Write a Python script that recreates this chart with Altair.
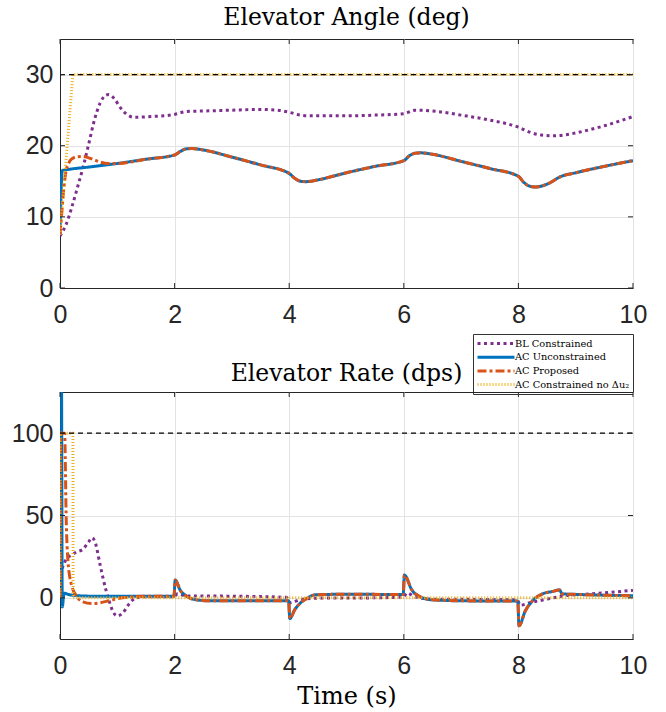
import altair as alt
import pandas as pd

# ---- series styling -------------------------------------------------------
SERIES = ["BL Constrained", "AC Unconstrained", "AC Proposed", "AC Constrained no Δu₂"]
COLORS = ["#7E2F8E", "#0072BD", "#D95319", "#EDB120"]
DASHES = [[3, 3.5], [1, 0], [9, 3, 3, 3], [1, 2]]
WIDTHS = [3, 3, 3, 1]

# ---- elevator angle (deg) -------------------------------------------------
bl_angle_t = [0, 0.1, 0.2, 0.3, 0.4, 0.5, 0.6, 0.7, 0.8, 0.85, 0.95, 1.05, 1.15, 1.3,
              1.6, 2.0, 2.2, 2.6, 3.0, 3.5, 3.8, 4.0, 4.2, 4.4, 5.0, 5.5, 6.0, 6.2,
              6.6, 7.0, 7.5, 8.0, 8.2, 8.4, 8.6, 8.8, 9.0, 9.5, 10.0]
bl_angle = [7.3, 8.8, 11.2, 14.0, 16.9, 20.2, 23.6, 26.0, 27.1, 27.2, 26.6, 25.4, 24.5, 24.0,
            24.1, 24.4, 24.8, 24.9, 25.0, 25.1, 25.0, 24.7, 24.3, 24.2, 24.2, 24.3, 24.5, 25.0,
            24.8, 24.3, 23.6, 22.6, 21.9, 21.5, 21.4, 21.5, 21.8, 22.8, 24.1]

acu_angle_t = [0, 0.04, 0.1, 0.5, 1.0, 1.5, 2.0, 2.1, 2.2, 2.3, 2.5, 3.0, 3.5, 4.0, 4.1,
               4.2, 4.3, 4.5, 5.0, 5.5, 6.0, 6.1, 6.2, 6.3, 6.5, 7.0, 7.5, 8.0, 8.1, 8.2,
               8.3, 8.5, 8.75, 9.0, 9.5, 10.0]
acu_angle = [7.5, 16.5, 16.6, 17.0, 17.5, 18.1, 18.7, 19.2, 19.55, 19.6, 19.4, 18.4, 17.3, 16.1, 15.4,
             15.0, 14.95, 15.2, 16.2, 17.1, 17.9, 18.6, 18.95, 19.0, 18.8, 17.8, 16.8, 15.7, 14.8, 14.3,
             14.2, 14.6, 15.7, 16.2, 17.1, 17.9]

acp_angle_t = [0, 0.03, 0.06, 0.1, 0.15, 0.2, 0.3, 0.4, 0.5, 0.6, 0.7, 0.85, 1.0, 1.5, 2.0,
               2.1, 2.2, 2.3, 2.5, 3.0, 3.5, 4.0, 4.1, 4.2, 4.3, 4.5, 5.0, 5.5, 6.0, 6.1,
               6.2, 6.3, 6.5, 7.0, 7.5, 8.0, 8.1, 8.2, 8.3, 8.5, 8.75, 9.0, 9.5, 10.0]
acp_angle = [7.5, 10.5, 13.5, 16.2, 17.5, 18.1, 18.45, 18.5, 18.3, 18.0, 17.7, 17.5, 17.5, 18.1, 18.7,
             19.2, 19.55, 19.6, 19.4, 18.4, 17.3, 16.1, 15.4, 15.0, 14.95, 15.2, 16.2, 17.1, 17.9, 18.6,
             18.95, 19.0, 18.8, 17.8, 16.8, 15.7, 14.8, 14.3, 14.2, 14.6, 15.7, 16.2, 17.1, 17.9]

acc_angle_t = [0, 0.225, 10.0]
acc_angle = [7.5, 30.0, 30.0]

angle_limit = [30]

# ---- elevator rate (dps) --------------------------------------------------
bl_rate_t = [0, 0.05, 0.1, 0.2, 0.3, 0.4, 0.5, 0.56, 0.62, 0.7, 0.8, 0.85, 0.92, 1.0, 1.1,
             1.2, 1.3, 1.45, 1.7, 2.0, 2.05, 2.2, 3.0, 3.95, 4.02, 4.2, 4.5, 5.5, 6.0, 6.05,
             6.2, 6.5, 7.5, 7.98, 8.03, 8.2, 8.5, 8.8, 9.0, 9.5, 10.0]
bl_rate = [14, 19, 23, 26, 28, 29.5, 34, 36.5, 33, 20, 5, -1, -8, -11, -9,
           -4, -0.5, 0.6, 0.6, 0.7, 2.5, 1.2, 1.0, 0.3, -3, -1, -0.2, 0, 0.5, 3,
           0.5, -0.8, -1, -1.2, -4.5, -3, -0.8, 1.2, 1.8, 3.0, 4.6]

acu_rate_t = [0, 0.02, 0.04, 0.07, 0.15, 0.3, 0.6, 1.0, 1.99, 2.01, 2.1, 2.2, 2.38, 2.6, 3.5,
              3.99, 4.01, 4.1, 4.2, 4.3, 4.45, 5.0, 5.99, 6.01, 6.14, 6.33, 6.5, 7.0, 7.99, 8.01,
              8.12, 8.24, 8.42, 8.6, 8.72, 8.76, 9.0, 10.0]
acu_rate = [200, 200, -5.5, 2.8, 2.0, 1.3, 1.0, 1.0, 1.0, 10.8, 4.5, 1.2, -1.2, -1.8, -1.8,
            -1.8, -12.6, -7, -3, -0.5, 1.8, 2.2, 2.0, 13.8, 4.8, 0, -1.2, -1.8, -2.0, -17,
            -8, -2, 2.4, 3.9, 4.8, 2.4, 2.1, 1.2]

acp_rate_t = [0, 0.005, 0.08, 0.11, 0.14, 0.2, 0.3, 0.4, 0.55, 0.7, 0.85, 1.0, 1.2, 1.5, 1.99,
              2.01, 2.1, 2.2, 2.38, 2.6, 3.5, 3.99, 4.01, 4.1, 4.2, 4.3, 4.45, 5.0, 5.99, 6.01,
              6.14, 6.33, 6.5, 7.0, 7.99, 8.01, 8.12, 8.24, 8.42, 8.6, 8.72, 8.76, 9.0, 10.0]
acp_rate = [0, 100, 100, 45, 22, 8, 0.5, -2.5, -3.5, -3, -1.8, -0.5, 0.5, 0.9, 1.0,
            10.8, 4.5, 1.2, -1.2, -1.8, -1.8, -1.8, -12.6, -7, -3, -0.5, 1.8, 2.2, 2.0, 13.8,
            4.8, 0, -1.2, -1.8, -2.0, -17, -8, -2, 2.4, 3.9, 4.8, 2.4, 2.1, 1.2]

acc_rate_t = [0, 0.005, 0.225, 0.23, 10.0]
acc_rate = [0, 100, 100, 0, 0]

rate_limit = [100]

X_TICKS = [0, 2, 4, 6, 8, 10]
ANGLE_TICKS = [0, 10, 20, 30]
RATE_TICKS = [0, 50, 100]

W, H1, H2 = 573, 249, 247
INK = "#262626"


def frame(ts, vs, name):
    return pd.DataFrame({"t": ts, "v": vs, "series": name})


angle_sets = [(bl_angle_t, bl_angle), (acu_angle_t, acu_angle),
              (acp_angle_t, acp_angle), (acc_angle_t, acc_angle)]
rate_sets = [(bl_rate_t, bl_rate), (acu_rate_t, acu_rate),
             (acp_rate_t, acp_rate), (acc_rate_t, acc_rate)]


def panel(sets, limit, ydomain, yticks, h, title, xtitle, legend):
    xs = alt.Scale(domain=[0, 10], nice=False, zero=False)
    ys = alt.Scale(domain=ydomain, nice=False, zero=False)
    x_axis = alt.Axis(values=X_TICKS, format="d", title=xtitle, labelPadding=14,
                      labelFlush=False,
                      titleFont="DejaVu Serif", titleFontSize=24,
                      titleFontWeight="normal", titleColor="black", titlePadding=6)
    y_axis = alt.Axis(values=yticks, format="d", title=None, labelPadding=7)

    layers = []
    for name, (ts, vs), w in zip(SERIES, sets, WIDTHS):
        interp = "linear" if w == 1 else "monotone"
        layers.append(
            alt.Chart(frame(ts, vs, name))
            .mark_line(clip=True, interpolate=interp)
            .encode(
                x=alt.X("t:Q", scale=xs, axis=x_axis),
                y=alt.Y("v:Q", scale=ys, axis=y_axis),
                color=alt.Color("series:N", scale=alt.Scale(domain=SERIES, range=COLORS),
                                legend=legend),
                strokeDash=alt.StrokeDash("series:N", scale=alt.Scale(domain=SERIES, range=DASHES),
                                          legend=legend),
                strokeWidth=alt.StrokeWidth("series:N", scale=alt.Scale(domain=SERIES, range=WIDTHS),
                                            legend=legend),
            )
        )

    lim = (
        alt.Chart(pd.DataFrame({"v": limit}))
        .mark_rule(color="black", strokeWidth=1.2, strokeDash=[5, 4])
        .encode(y="v:Q", x=alt.datum(0), x2=alt.datum(10))
    )
    tick_x = pd.DataFrame({"t": X_TICKS})
    tick_y = pd.DataFrame({"v": yticks})
    ticks = [
        alt.Chart(tick_x).mark_rule(color=INK).encode(x="t:Q", y=alt.value(h), y2=alt.value(h - 5)),
        alt.Chart(tick_x).mark_rule(color=INK).encode(x="t:Q", y=alt.value(0), y2=alt.value(5)),
        alt.Chart(tick_y).mark_rule(color=INK).encode(y="v:Q", x=alt.value(0), x2=alt.value(5)),
        alt.Chart(tick_y).mark_rule(color=INK).encode(y="v:Q", x=alt.value(W - 5), x2=alt.value(W)),
    ]
    return alt.layer(*layers, lim, *ticks).properties(
        width=W, height=h, title=title
    )


# Legend sits between the two panels, just above the lower plot's top-right corner.
# A long horizontal path keeps each row compact while drawing a wide line sample.
legend = alt.Legend(
    title=None, orient="none", legendX=413, legendY=295,
    symbolType="M-1,0H6.4", symbolSize=100, symbolOffset=0,
    labelFont="DejaVu Serif", labelFontSize=9.8, labelOffset=26,
    labelColor="black", fillColor="white", strokeColor="#333333", padding=3,
    rowPadding=0.7, labelLimit=400,
)

top = panel(angle_sets, angle_limit, [0, 35], ANGLE_TICKS, H1,
            alt.Title("Elevator Angle (deg)", offset=9), None, legend)
bottom = panel(rate_sets, rate_limit, [-25, 125], RATE_TICKS, H2,
               alt.Title("Elevator Rate (dps)", offset=6), "Time (s)", None)

chart = (
    alt.vconcat(top, bottom, spacing=104, bounds="flush")
    .resolve_scale(color="independent", strokeDash="independent", strokeWidth="independent")
    .resolve_legend(color="independent", strokeDash="independent", strokeWidth="independent")
    .properties(padding={"left": 10, "top": 5, "right": 10, "bottom": 4})
    .configure_view(stroke=INK, strokeWidth=1)
    .configure_axis(grid=True, gridColor="#e3e3e3", domainColor=INK, ticks=False,
                    labelFont="Liberation Sans", labelFontSize=25, labelColor=INK)
    .configure_title(font="DejaVu Serif", fontSize=23.5, fontWeight="normal", color="black")
)

chart.save("out.html", embed_options={"renderer": "svg", "actions": False})
